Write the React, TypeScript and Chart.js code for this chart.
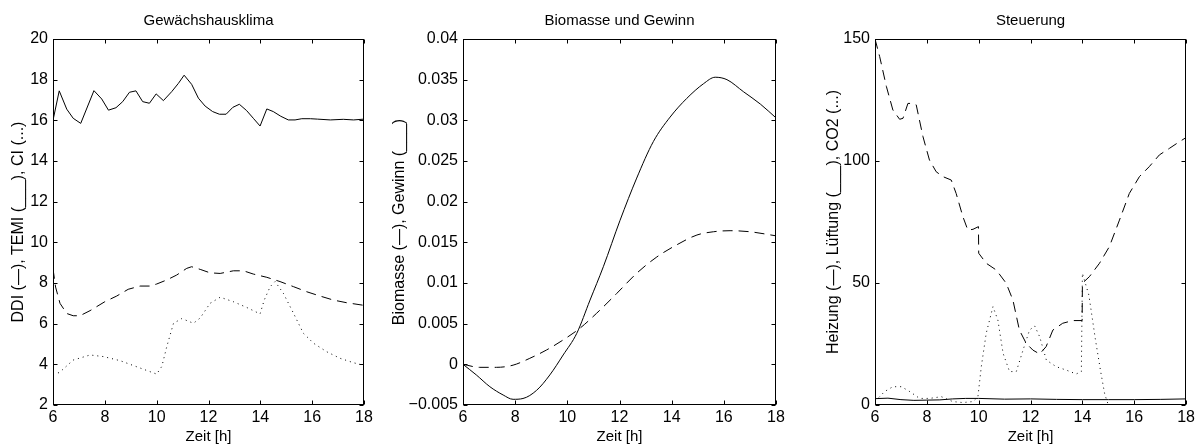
import React, { useEffect, useRef } from 'react';
import { Chart, registerables } from 'chart.js';

Chart.register(...registerables);

const FONT = '"Liberation Sans", Arial, Helvetica, sans-serif';

// ---------- shared x axis ----------
const xTicks = [6, 8, 10, 12, 14, 16, 18];
const xTickLabels = ['6', '8', '10', '12', '14', '16', '18'];

// ---------- Chart 1: Gewächshausklima ----------
const temiT = [6, 6.24, 6.53, 6.78, 7.07, 7.58, 7.88, 8.14, 8.43, 8.69, 8.95, 9.2, 9.46, 9.72, 9.98, 10.26, 10.58, 10.84, 11.06, 11.35, 11.61, 11.87, 12.16, 12.42, 12.68, 12.94, 13.19, 13.47, 13.73, 13.99, 14.25, 14.5, 14.79, 15.08, 15.34, 15.6, 15.93, 16.2, 16.7, 17.2, 17.6, 18];
const temiV = [16.0, 17.45, 16.55, 16.1, 15.85, 17.46, 17.05, 16.5, 16.62, 16.92, 17.38, 17.45, 16.92, 16.84, 17.3, 16.97, 17.41, 17.82, 18.22, 17.77, 17.09, 16.7, 16.43, 16.3, 16.3, 16.64, 16.79, 16.48, 16.1, 15.72, 16.56, 16.43, 16.2, 16.02, 16.02, 16.08, 16.08, 16.06, 16.02, 16.05, 16.02, 16.06];
const ddiT = [6, 6.1, 6.27, 6.53, 6.78, 7.04, 7.43, 8.0, 8.46, 8.9, 9.36, 9.74, 10.0, 10.39, 10.77, 11.16, 11.35, 11.68, 12.06, 12.45, 12.96, 13.35, 13.73, 14.25, 14.76, 15.28, 15.79, 16.3, 16.82, 17.33, 18];
const ddiV = [8.7, 7.8, 7.0, 6.5, 6.39, 6.39, 6.64, 7.08, 7.36, 7.69, 7.85, 7.85, 7.95, 8.15, 8.39, 8.72, 8.8, 8.67, 8.5, 8.47, 8.6, 8.6, 8.44, 8.28, 8.07, 7.82, 7.57, 7.36, 7.16, 7.03, 6.9];
const ciT = [6, 6.24, 6.78, 7.43, 7.95, 8.59, 9.23, 10.0, 10.2, 10.39, 10.65, 10.97, 11.42, 11.68, 12.06, 12.45, 12.96, 13.47, 13.99, 14.15, 14.38, 14.57, 14.89, 15.28, 15.66, 16.05, 16.56, 17.07, 17.59, 18];
const ciV = [3.55, 3.59, 4.21, 4.46, 4.38, 4.18, 3.88, 3.52, 3.9, 4.87, 6.02, 6.25, 6.02, 6.28, 7.0, 7.3, 7.08, 6.8, 6.48, 7.16, 7.82, 8.07, 7.49, 6.51, 5.53, 5.04, 4.62, 4.3, 4.08, 3.95];
const yTicks1 = [2, 4, 6, 8, 10, 12, 14, 16, 18, 20];
const yTickLabels1 = ['2', '4', '6', '8', '10', '12', '14', '16', '18', '20'];

// ---------- Chart 2: Biomasse und Gewinn ----------
const gewT = [6, 6.51, 7.03, 7.54, 7.92, 8.3, 8.82, 9.33, 9.84, 10.36, 10.87, 11.38, 12.02, 12.66, 13.3, 13.94, 14.58, 15.22, 15.67, 16.12, 16.76, 17.4, 18];
const gewV = [0, -0.0013, -0.00275, -0.00377, -0.0043, -0.0042, -0.0032, -0.0013, 0.00115, 0.0038, 0.0079, 0.012, 0.0177, 0.0229, 0.0274, 0.0304, 0.0327, 0.0345, 0.0353, 0.035, 0.0335, 0.032, 0.0303];
const bioT = [6, 6.64, 7.28, 7.92, 8.56, 9.2, 9.84, 10.48, 11.12, 11.89, 12.66, 13.43, 14.2, 14.97, 15.6, 16.24, 17.0, 18];
const bioV = [0, -0.00037, -0.00037, -0.0001, 0.00074, 0.00176, 0.003, 0.00443, 0.00627, 0.0087, 0.0112, 0.0132, 0.0147, 0.0159, 0.0163, 0.01643, 0.0163, 0.0158];
const yTicks2 = [-0.005, 0, 0.005, 0.01, 0.015, 0.02, 0.025, 0.03, 0.035, 0.04];
const yTickLabels2 = ['\u22120.005', '0', '0.005', '0.01', '0.015', '0.02', '0.025', '0.03', '0.035', '0.04'];

// ---------- Chart 3: Steuerung ----------
const heizT = [6, 6.18, 6.44, 6.69, 6.95, 7.08, 7.27, 7.46, 7.59, 7.85, 8.1, 8.36, 8.62, 8.94, 9.13, 9.39, 9.58, 9.78, 9.99, 10.0, 10.29, 10.68, 11.06, 11.32, 11.57, 11.83, 12.09, 12.35, 12.6, 12.86, 13.24, 13.63, 13.99, 14.0, 14.27, 14.66, 15.04, 15.43, 15.81, 16.2, 16.58, 16.97, 17.36, 17.74, 18];
const heizV = [150, 142.8, 130.5, 120.9, 117.1, 117.5, 123.6, 123.6, 123, 110, 100.4, 95.6, 93.6, 92.2, 86.7, 77.2, 71.7, 72, 73.1, 62.2, 58.1, 55.3, 49.9, 43, 30.7, 25.3, 22.5, 20.9, 23.9, 30.7, 33.5, 34.6, 34.6, 49.9, 52.6, 58.1, 64.9, 75.8, 86.7, 93.6, 97.7, 102.5, 105.2, 107.9, 109.6];
const lueftT = [6, 6.5, 7.0, 7.5, 8, 8.5, 9, 9.5, 10, 11, 12, 13, 14, 15, 16, 17, 18];
const lueftV = [2.6, 2.8, 2.2, 1.9, 2.0, 2.1, 2.5, 2.7, 2.7, 2.4, 2.5, 2.3, 2.2, 2.2, 2.2, 2.3, 2.5];
const co2T = [6, 6.05, 6.37, 6.69, 7.02, 7.34, 7.72, 8.11, 8.56, 9.0, 9.39, 9.78, 9.97, 10.1, 10.29, 10.55, 10.74, 10.94, 11.19, 11.45, 11.71, 11.96, 12.16, 12.35, 12.61, 12.99, 13.38, 13.76, 13.96, 14.0, 14.25, 14.5, 14.7, 14.86, 15.0, 18];
const co2V = [2, 2.05, 5.5, 7.5, 7.5, 5.5, 2.7, 2.7, 3.4, 1.4, 1.0, 1.4, 3.4, 15.7, 29.4, 40.3, 34.8, 21.2, 13.7, 13.7, 22.5, 30.7, 32.4, 28, 18.4, 15.7, 14.3, 12.7, 13.7, 54, 45, 27, 14, 4.5, 0, 0];
const yTicks3 = [0, 50, 100, 150];
const yTickLabels3 = ['0', '50', '100', '150'];

const SOLID: number[] = [];
const DASHED = [10, 6];
const DOTTED = [1, 4];

function series(t: number[], v: number[], dash: number[], tension = 0) {
  return {
    data: t.map((x, i) => ({ x, y: v[i] })),
    borderColor: '#000',
    borderWidth: 1,
    borderDash: dash,
    pointRadius: 0,
    fill: false,
    tension,
    cubicInterpolationMode: tension > 0 ? 'monotone' : 'default',
  };
}

const decorPlugin = {
  id: 'decor',
  afterDraw(chart: any, _args: any, opts: any) {
    const { ctx, chartArea: a, scales } = chart;
    ctx.save();
    ctx.strokeStyle = '#000';
    ctx.lineWidth = 1;
    const L = Math.round(a.left) + 0.5;
    const R = Math.round(a.right) - 0.5;
    const T = Math.round(a.top) + 0.5;
    const B = Math.round(a.bottom) - 0.5;
    ctx.strokeRect(L, T, R - L, B - T);
    const tl = 4;
    ctx.beginPath();
    scales.x.ticks.forEach((tk: any) => {
      const x = Math.round(scales.x.getPixelForValue(tk.value)) + 0.5;
      ctx.moveTo(x, B); ctx.lineTo(x, B - tl);
      ctx.moveTo(x, T); ctx.lineTo(x, T + tl);
    });
    scales.y.ticks.forEach((tk: any) => {
      const y = Math.round(scales.y.getPixelForValue(tk.value)) + 0.5;
      ctx.moveTo(L, y); ctx.lineTo(L + tl, y);
      ctx.moveTo(R, y); ctx.lineTo(R - tl, y);
    });
    ctx.stroke();
    ctx.fillStyle = '#000';
    ctx.textAlign = 'center';
    ctx.textBaseline = 'middle';
    ctx.font = `${opts.titleSize}px ${FONT}`;
    ctx.fillText(opts.title, (a.left + a.right) / 2, opts.titleY);
    ctx.font = `${opts.yLabelSize}px ${FONT}`;
    ctx.translate(opts.yLabelX, (a.top + a.bottom) / 2 + opts.yLabelDy);
    ctx.rotate(-Math.PI / 2);
    ctx.fillText(opts.yLabel, 0, 0);
    ctx.restore();
  },
};

type Cfg = {
  datasets: any[];
  yMin: number; yMax: number;
  yTicks: number[]; yTickLabels: string[];
  axisLeft: number; padRight: number;
  title: string; yLabel: string; yLabelX: number; yLabelDy: number;
};

function makeConfig(c: Cfg): any {
  const tickFont = { family: FONT, size: 16 };
  const labelFont = { family: FONT, size: 15 };
  return {
    type: 'line',
    data: { datasets: c.datasets },
    plugins: [decorPlugin],
    options: {
      responsive: false,
      animation: false,
      devicePixelRatio: 1,
      layout: { padding: { top: 39, right: c.padRight, left: 0, bottom: 0 } },
      plugins: {
        legend: { display: false },
        tooltip: { enabled: false },
        title: { display: false },
        decor: {
          title: c.title, titleY: 21, titleSize: 15,
          yLabel: c.yLabel, yLabelX: c.yLabelX, yLabelDy: c.yLabelDy, yLabelSize: 16,
        },
      },
      scales: {
        x: {
          type: 'linear', min: 6, max: 18,
          afterBuildTicks: (s: any) => { s.ticks = xTicks.map((v) => ({ value: v })); },
          afterFit: (s: any) => { s.height = 42; },
          grid: { display: false, drawTicks: false },
          border: { display: false },
          ticks: {
            font: tickFont, color: '#000', padding: 3, maxRotation: 0, autoSkip: false,
            callback: (_v: any, i: number) => xTickLabels[i],
          },
          title: { display: true, text: 'Zeit [h]', font: labelFont, color: '#000', padding: { top: 0, bottom: 1 } },
        },
        y: {
          type: 'linear', min: c.yMin, max: c.yMax,
          afterBuildTicks: (s: any) => { s.ticks = c.yTicks.map((v) => ({ value: v })); },
          afterFit: (s: any) => { s.width = c.axisLeft; },
          grid: { display: false, drawTicks: false },
          border: { display: false },
          ticks: {
            font: tickFont, color: '#000', padding: 5, autoSkip: false,
            callback: (_v: any, i: number) => c.yTickLabels[i],
          },
        },
      },
    },
  };
}

function ChartBox({ left, width, cfg }: { left: number; width: number; cfg: Cfg }) {
  const ref = useRef<HTMLCanvasElement>(null);
  useEffect(() => {
    if (!ref.current) return;
    const chart = new Chart(ref.current, makeConfig(cfg));
    return () => chart.destroy();
  }, []);
  return (
    <canvas
      ref={ref}
      width={width}
      height={447}
      style={{ position: 'absolute', left, top: 0, width, height: 447 }}
    />
  );
}

const cfg1: Cfg = {
  datasets: [series(ddiT, ddiV, DASHED), series(temiT, temiV, SOLID), series(ciT, ciV, DOTTED)],
  yMin: 2, yMax: 20, yTicks: yTicks1, yTickLabels: yTickLabels1,
  axisLeft: 53, padRight: 26,
  title: 'Gewächshausklima', yLabel: 'DDI (\u2014), TEMI (___), CI (...)', yLabelX: 19, yLabelDy: 0,
};

const cfg2: Cfg = {
  datasets: [series(bioT, bioV, DASHED, 0.4), series(gewT, gewV, SOLID, 0.4)],
  yMin: -0.005, yMax: 0.04, yTicks: yTicks2, yTickLabels: yTickLabels2,
  axisLeft: 78, padRight: 19,
  title: 'Biomasse und Gewinn', yLabel: 'Biomasse (\u2014), Gewinn (___)', yLabelX: 15, yLabelDy: 0,
};

const cfg3: Cfg = {
  datasets: [series(heizT, heizV, DASHED), series(lueftT, lueftV, SOLID), series(co2T, co2V, DOTTED)],
  yMin: 0, yMax: 150, yTicks: yTicks3, yTickLabels: yTickLabels3,
  axisLeft: 80, padRight: 11,
  title: 'Steuerung', yLabel: 'Heizung (\u2014), Lüftung (___), CO2 (...)', yLabelX: 39, yLabelDy: 0,
};

export default function App() {
  return (
    <div style={{ position: 'absolute', left: 0, top: 0, width: 1198, height: 447, overflow: 'hidden', background: '#fff' }}>
      <ChartBox left={0} width={390} cfg={cfg1} />
      <ChartBox left={385} width={410} cfg={cfg2} />
      <ChartBox left={795} width={403} cfg={cfg3} />
    </div>
  );
}
